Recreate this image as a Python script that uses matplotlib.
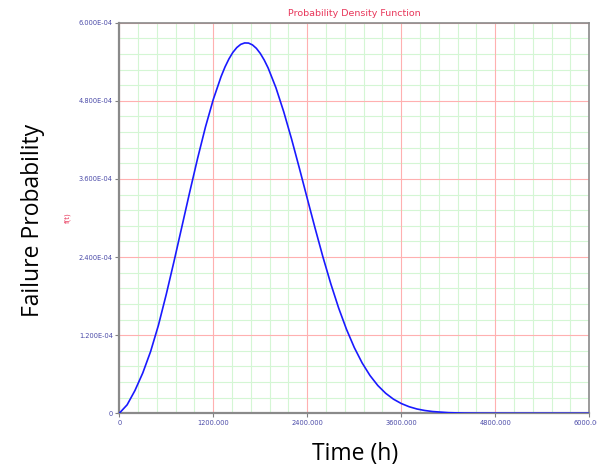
import matplotlib
matplotlib.use("Agg")
import matplotlib.pyplot as plt

# Time (h) and PDF values
time_h = [0, 100, 200, 300, 400, 500, 600, 700, 800, 900, 1000, 1100, 1200,
          1300, 1350, 1400, 1450, 1500, 1550, 1600, 1650, 1700, 1750, 1800,
          1850, 1900, 2000, 2100, 2200, 2300,
          2400, 2500, 2600, 2700, 2800, 2900, 3000, 3100, 3200, 3300, 3400,
          3500, 3600, 3700, 3800, 3900, 4000, 4200, 4400, 4600, 5000, 6000]
pdf_vals = [0.0, 0.13e-4, 0.35e-4, 0.62e-4, 0.95e-4, 1.354e-4, 1.829e-4,
            2.341e-4, 2.871e-4, 3.403e-4, 3.917e-4, 4.397e-4, 4.821e-4,
            5.174e-4, 5.321e-4, 5.444e-4, 5.544e-4, 5.618e-4, 5.667e-4,
            5.689e-4, 5.687e-4, 5.659e-4, 5.606e-4, 5.528e-4, 5.427e-4,
            5.305e-4, 5.000e-4, 4.629e-4, 4.210e-4, 3.760e-4, 3.298e-4,
            2.841e-4, 2.400e-4, 1.990e-4, 1.618e-4, 1.291e-4, 1.010e-4,
            0.774e-4, 0.581e-4, 0.427e-4, 0.308e-4, 0.217e-4, 0.150e-4,
            0.101e-4, 0.066e-4, 0.043e-4, 0.027e-4, 0.010e-4, 0.003e-4,
            0.001e-4, 0.0, 0.0]

x_ticks = [0, 1200, 2400, 3600, 4800, 6000]
x_tick_labels = ["0", "1200.000", "2400.000", "3600.000", "4800.000", "6000.000"]
y_ticks = [0, 1.2e-4, 2.4e-4, 3.6e-4, 4.8e-4, 6.0e-4]
y_tick_labels = ["0", "1.200E-04", "2.400E-04", "3.600E-04", "4.800E-04", "6.000E-04"]
x_minor = [i * 240 for i in range(26) if i % 5 != 0]
y_minor = [i * 0.24e-4 for i in range(26) if i % 5 != 0]

fig = plt.figure(figsize=(5.97, 4.67), dpi=100)
ax = fig.add_axes([0.1998, 0.115, 0.7873, 0.8364])

ax.set_xlim(0, 6000)
ax.set_ylim(0, 6.0e-4)

ax.set_xticks(x_ticks)
ax.set_xticklabels(x_tick_labels)
ax.set_yticks(y_ticks)
ax.set_yticklabels(y_tick_labels)

tick_color = "#4a4aa8"
ax.tick_params(axis="both", which="major", labelsize=4.8, labelcolor=tick_color,
               color="#808080", length=3, width=0.8, pad=1.5)
ax.grid(False)

minor_col = "#d4f6d4"
major_col = "#ffb0b0"
for xv in x_minor:
    ax.axvline(xv, color=minor_col, linewidth=0.8, zorder=0.3)
for yv in y_minor:
    ax.axhline(yv, color=minor_col, linewidth=0.8, zorder=0.3)
for xv in x_ticks:
    ax.axvline(xv, color=major_col, linewidth=0.8, zorder=0.5)
for yv in y_ticks:
    ax.axhline(yv, color=major_col, linewidth=0.8, zorder=0.5)

ax.plot(time_h, pdf_vals, color="#1a1aff", linewidth=1.2, zorder=3,
        solid_joinstyle="round")

for side in ["left", "bottom"]:
    ax.spines[side].set_color("#8a8a8a")
    ax.spines[side].set_linewidth(1.6)
for side in ["top", "right"]:
    ax.spines[side].set_color("#8a8a8a")
    ax.spines[side].set_linewidth(1.2)

ax.set_title("Probability Density Function", color="#e8365a", fontsize=6.8, pad=5)

fig.text(68 / 597, 1 - 218 / 467, "f(t)", rotation=90, color="#e8365a",
         fontsize=5, ha="center", va="center")
fig.text(33 / 597, 1 - 220 / 467, "Failure Probability", rotation=90,
         color="black", fontsize=16.5, ha="center", va="center",
         family="Open Sans")
fig.text(355 / 597, 1 - 454 / 467, "Time (h)", color="black", fontsize=16.5,
         ha="center", va="center", family="Open Sans")

fig.savefig("out.png", dpi=100)
